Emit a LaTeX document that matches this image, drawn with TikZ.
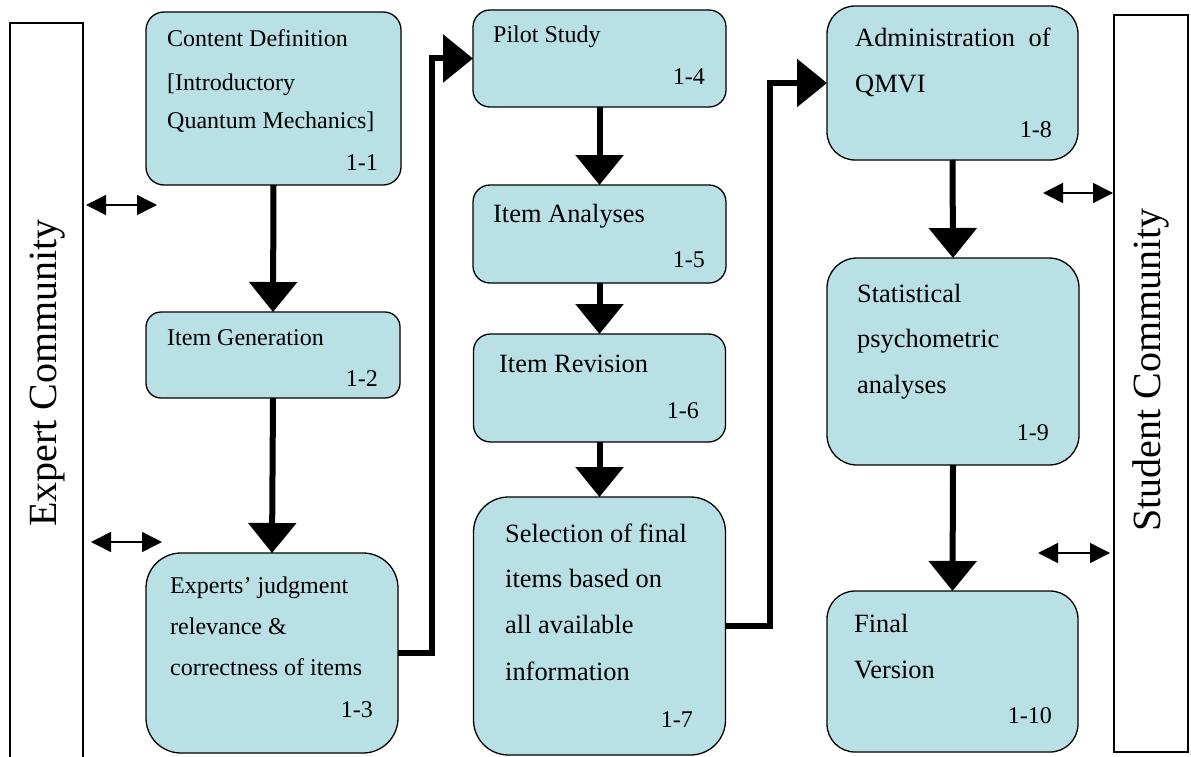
\documentclass[tikz,border=0pt]{standalone}
\usepackage{fontspec}
\setmainfont{Liberation Serif}
\usetikzlibrary{arrows.meta}
\definecolor{boxfill}{RGB}{185,224,228}
\begin{document}
\begin{tikzpicture}[x=1pt,y=-1pt,
  box/.style={draw=black, line width=1.3pt, fill=boxfill, inner sep=0pt, outer sep=0pt},
  txt/.style={anchor=base west, inner sep=0pt, font=\fontsize{26.4}{30}\selectfont},
  stxt/.style={anchor=base west, inner sep=0pt, font=\fontsize{24}{28}\selectfont},
  num/.style={anchor=base east, inner sep=0pt, font=\fontsize{24}{28}\selectfont},
  flow/.style={line width=6pt, -{Triangle[width=47pt,length=30pt]}},
  link/.style={line width=1.5pt, {Triangle[width=20pt,length=20pt]}-{Triangle[width=20pt,length=20pt]}},
  comm/.style={draw=black, line width=1.3pt, fill=white, inner sep=0pt, outer sep=0pt},
  commtxt/.style={rotate=90, inner sep=0pt, font=\fontsize{40}{44}\selectfont}
]
\clip (0,0) rectangle (1191,757);
\fill[white] (0,0) rectangle (1191,757);

% community boxes
\node[comm, minimum width=73pt, minimum height=780pt, anchor=north west] (expert) at (10,23) {};
\node[commtxt] (experttxt) at (48,373) {Expert Community};
\node[comm, minimum width=74pt, minimum height=737pt, anchor=north west] (student) at (1114,15) {};
\node[commtxt] (studenttxt) at (1151,370) {Student Community};

% column 1
\node[box, rounded corners=18pt, minimum width=255pt, minimum height=173pt] (b11) at (273.5,98.5) {};
\node[stxt] (t11a) at (167,47) {Content Definition};
\node[stxt] (t11b) at (167,91) {[Introductory};
\node[stxt] (t11c) at (167,129) {Quantum Mechanics]};
\node[num] (n11) at (378,170) {1-1};

\node[box, rounded corners=15pt, minimum width=254pt, minimum height=86pt] (b12) at (273,355) {};
\node[stxt] (t12a) at (167,345) {Item Generation};
\node[num] (n12) at (378,386) {1-2};

\node[box, rounded corners=35pt, minimum width=252pt, minimum height=200pt] (b13) at (272,653) {};
\node[stxt] (t13a) at (170,593) {Experts’ judgment};
\node[stxt] (t13b) at (170,634) {relevance \&};
\node[stxt] (t13c) at (170,675) {correctness of items};
\node[num] (n13) at (373,717) {1-3};

% column 2
\node[box, rounded corners=17pt, minimum width=253pt, minimum height=97pt] (b14) at (599.5,58.5) {};
\node[stxt] (t14a) at (493,43) {Pilot Study};
\node[num] (n14) at (705,85) {1-4};

\node[box, rounded corners=17pt, minimum width=253pt, minimum height=98pt] (b15) at (599.5,234) {};
\node[txt] (t15a) at (493,222) {Item Analyses};
\node[num] (n15) at (705,267) {1-5};

\node[box, rounded corners=17pt, minimum width=252pt, minimum height=108pt] (b16) at (599.5,388) {};
\node[txt] (t16a) at (499,372) {Item Revision};
\node[num] (n16) at (699,418) {1-6};

\node[box, rounded corners=35pt, minimum width=252pt, minimum height=258pt] (b17) at (599.5,626) {};
\node[txt] (t17a) at (505,542) {Selection of final};
\node[txt] (t17b) at (505,587) {items based on};
\node[txt] (t17c) at (505,633) {all available};
\node[txt] (t17d) at (505,680) {information};
\node[num] (n17) at (693,727) {1-7};

% column 3
\node[box, rounded corners=28pt, minimum width=251pt, minimum height=154pt] (b18) at (952.5,83) {};
\node[txt] (t18a) at (855,47) {Administration\hspace{7pt} of};
\node[txt] (t18b) at (855,93) {QMVI};
\node[num] (n18) at (1052,138) {1-8};

\node[box, rounded corners=30pt, minimum width=252pt, minimum height=207pt] (b19) at (953,361.5) {};
\node[txt] (t19a) at (857,302) {Statistical};
\node[txt] (t19b) at (857,347) {psychometric};
\node[txt] (t19c) at (857,393) {analyses};
\node[num] (n19) at (1049,440) {1-9};

\node[box, rounded corners=28pt, minimum width=251pt, minimum height=161pt] (b110) at (952.5,671.5) {};
\node[txt] (t110a) at (854,632) {Final};
\node[txt] (t110b) at (854,678) {Version};
\node[num] (n110) at (1052,723) {1-10};

% flow arrows
\draw[flow] (b11.south) -- (b12.north);
\draw[flow] (b12.south) -- (b13.north);
\draw[flow] (b13.east) -- ++(34,0) |- (b14.west);
\draw[flow] (b14.south) -- (b15.north);
\draw[flow] (b15.south) -- (b16.north);
\draw[flow] (b16.south) -- (b17.north);
\draw[flow] (b17.east) -- ++(44,0) |- (b18.west);
\draw[flow] (b18.south) -- (b19.north);
\draw[flow] (b19.south) -- (b110.north);

% community links
\coordinate (l1a) at (86,205);  \coordinate (l1b) at (157,205);
\coordinate (l2a) at (91,542);  \coordinate (l2b) at (162,542);
\coordinate (r1a) at (1043,193); \coordinate (r1b) at (1113,193);
\coordinate (r2a) at (1038,553); \coordinate (r2b) at (1110,553);
\draw[link] (l1a) -- (l1b);
\draw[link] (l2a) -- (l2b);
\draw[link] (r1a) -- (r1b);
\draw[link] (r2a) -- (r2b);
\end{tikzpicture}
\end{document}
